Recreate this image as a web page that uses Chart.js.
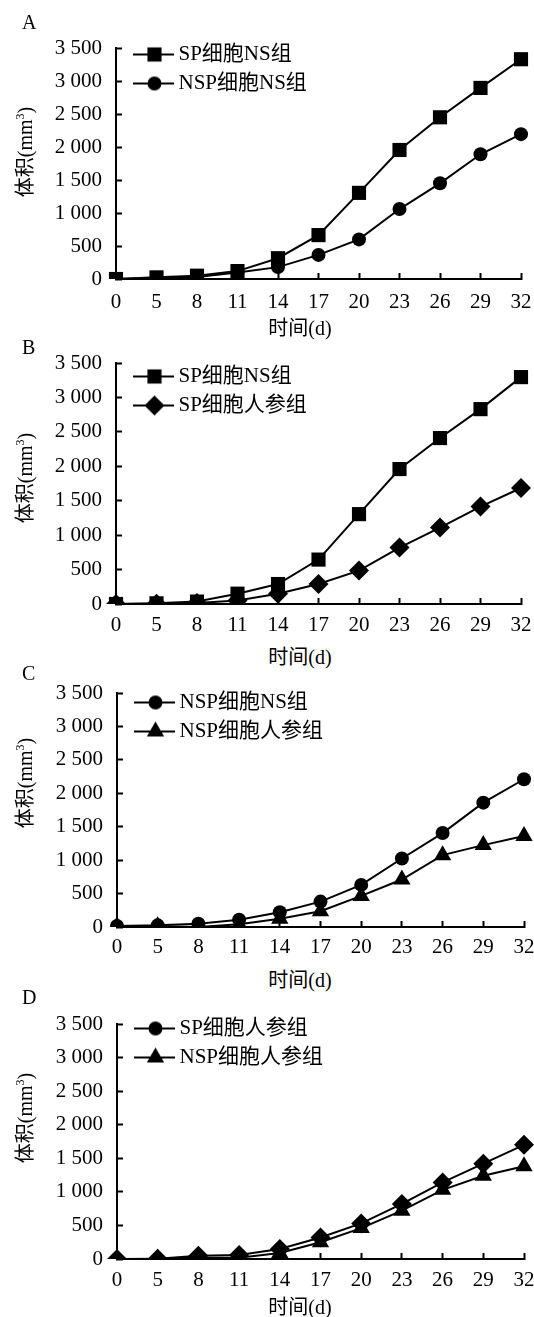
<!DOCTYPE html>
<html>
<head>
<meta charset="utf-8">
<script src="https://cdn.jsdelivr.net/npm/chart.js@4"></script>
<style>
  html, body { margin: 0; padding: 0; background: #fff; }
  body { width: 534px; height: 1317px; position: relative; overflow: hidden; }
  canvas { position: absolute; left: 0; }
  .txt { position: absolute; font-family: 'Liberation Serif', 'Noto Sans CJK SC', serif; font-size: 20px; line-height: 24px; color: #000; white-space: nowrap; }
  .sup { font-size: 12px; position: relative; top: -8px; }
</style>
</head>
<body>
<script>
// ---------- data ----------
const xLabels = ['0', '5', '8', '11', '14', '17', '20', '23', '26', '29', '32'];
const yTickValues = [0, 500, 1000, 1500, 2000, 2500, 3000, 3500];
const yTickLabels = ['0', '500', '1 000', '1 500', '2 000', '2 500', '3 000', '3 500'];
const panelLetters = ['A', 'B', 'C', 'D'];
const xTitle = '时间(d)';
const yTitleMain = '体积(mm';
const yTitleSup = '3';
const yTitleEnd = ')';

const nameSpNs = 'SP细胞NS组';
const nameNspNs = 'NSP细胞NS组';
const nameSpGs = 'SP细胞人参组';
const nameNspGs = 'NSP细胞人参组';

// Panel A
const aSpNs  = [0, 25, 50, 120, 315, 665, 1305, 1955, 2450, 2895, 3330];
const aNspNs = [0, 15, 30, 100, 180, 365, 600, 1060, 1450, 1890, 2195];
// Panel B
const bSpNs  = [0, 10, 35, 150, 290, 645, 1305, 1960, 2410, 2830, 3295];
const bSpGs  = [0, 5, 15, 50, 150, 290, 485, 820, 1110, 1415, 1685];
// Panel C
const cNspNs = [15, 25, 50, 110, 220, 380, 630, 1025, 1405, 1860, 2210];
const cNspGs = [10, 10, 0, 40, 125, 235, 465, 710, 1075, 1225, 1362];
// Panel D
const dSpGs  = [0, 5, 50, 60, 150, 320, 530, 820, 1140, 1420, 1700];
const dNspGs = [0, 5, 20, 20, 90, 250, 460, 720, 1030, 1240, 1380];

// ---------- styling / layout ----------
const FONT = "'Liberation Serif', 'Noto Sans CJK SC', serif";
Chart.defaults.font.family = FONT;
Chart.defaults.color = '#000';

const markerStyles = {
  square:   { pointStyle: 'rect',     radius: 10 },
  circle:   { pointStyle: 'circle',   radius: 7 },
  diamond:  { pointStyle: 'rectRot',  radius: 10 },
  triangle: { pointStyle: 'triangle', radius: 10 }
};

const panelSeries = [
  [ { name: nameSpNs,  data: aSpNs,  marker: 'square',  legendMarker: 'square' },
    { name: nameNspNs, data: aNspNs, marker: 'circle',  legendMarker: 'circle' } ],
  [ { name: nameSpNs,  data: bSpNs,  marker: 'square',  legendMarker: 'square' },
    { name: nameSpGs,  data: bSpGs,  marker: 'diamond', legendMarker: 'diamond' } ],
  [ { name: nameNspNs, data: cNspNs, marker: 'circle',  legendMarker: 'circle' },
    { name: nameNspGs, data: cNspGs, marker: 'triangle', legendMarker: 'triangle' } ],
  [ { name: nameSpGs,  data: dSpGs,  marker: 'diamond', legendMarker: 'circle' },
    { name: nameNspGs, data: dNspGs, marker: 'triangle', legendMarker: 'triangle' } ]
];

const panelLayout = [
  { top: 48,   bottom: 279,  left: 116, right: 521, letterY: 22,   yTitleY: 152,  xTitleY: 328,  xPad: 16, legendDy: 12 },
  { top: 363,  bottom: 604,  left: 116, right: 521, letterY: 347,  yTitleY: 478,  xTitleY: 657,  xPad: 14, legendDy: 5 },
  { top: 693,  bottom: 927,  left: 117, right: 525, letterY: 673,  yTitleY: 783,  xTitleY: 980,  xPad: 13, legendDy: 9 },
  { top: 1024, bottom: 1259, left: 117, right: 525, letterY: 997,  yTitleY: 1118, xTitleY: 1307, xPad: 14, legendDy: 14 }
];

function swatch(kind) {
  const c = document.createElement('canvas');
  c.width = 56; c.height = 22;
  const ctx = c.getContext('2d');
  ctx.strokeStyle = '#000';
  ctx.lineWidth = 2;
  ctx.beginPath(); ctx.moveTo(15, 11); ctx.lineTo(56, 11); ctx.stroke();
  ctx.fillStyle = '#000';
  const m = markerStyles[kind];
  Chart.helpers.drawPoint(ctx, { pointStyle: m.pointStyle, radius: m.radius, rotation: 0, borderWidth: 0 }, 36.5, 11);
  return c;
}

const legendShift = {
  id: 'legendShift',
  afterLayout(chart, args, opts) {
    const lg = chart.legend;
    if (!lg) return;
    const ca = chart.chartArea;
    const w = lg.width, h = lg.height;
    lg.left = ca.left; lg.right = ca.left + w;
    lg.top = ca.top - (opts.dy || 0); lg.bottom = lg.top + h;
  }
};

function addText(html, x, y, extraStyle) {
  const d = document.createElement('div');
  d.className = 'txt';
  d.innerHTML = html;
  d.style.left = x + 'px';
  d.style.top = y + 'px';
  if (extraStyle) Object.assign(d.style, extraStyle);
  document.body.appendChild(d);
  return d;
}

panelLayout.forEach((p, i) => {
  const series = panelSeries[i];
  const padTop = 20, axisH = 40;
  const h = padTop + (p.bottom - p.top) + axisH;
  const cv = document.createElement('canvas');
  cv.width = 534; cv.height = h;
  cv.style.width = '534px'; cv.style.height = h + 'px';
  cv.style.top = (p.top - padTop) + 'px';
  document.body.appendChild(cv);

  const gridOpts = { display: true, drawOnChartArea: false, drawTicks: true, tickLength: -6, tickColor: '#000', tickWidth: 2, offset: false };
  const borderOpts = { display: true, color: '#000', width: 2 };

  new Chart(cv, {
    type: 'line',
    data: {
      labels: xLabels,
      datasets: series.map(s => ({
        label: s.name,
        data: s.data,
        borderColor: '#000',
        backgroundColor: '#000',
        borderWidth: 2,
        pointStyle: markerStyles[s.marker].pointStyle,
        pointRadius: markerStyles[s.marker].radius,
        pointBackgroundColor: '#000',
        pointBorderColor: '#000',
        pointBorderWidth: 0,
        tension: 0,
        fill: false
      }))
    },
    options: {
      responsive: false,
      animation: false,
      devicePixelRatio: 1,
      events: [],
      layout: { padding: { top: padTop, left: 0, right: 534 - p.right, bottom: 0 } },
      scales: {
        x: {
          type: 'category',
          offset: false,
          grid: gridOpts,
          border: borderOpts,
          ticks: { padding: p.xPad + 1, font: { size: 21 }, color: '#000', maxRotation: 0, autoSkip: false },
          afterFit(s) { s.height = axisH; s.paddingLeft = 0; s.paddingRight = 0; }
        },
        y: {
          min: 0, max: 3500,
          grid: gridOpts,
          border: borderOpts,
          ticks: {
            stepSize: 500, padding: 20, font: { size: 21 }, color: '#000',
            callback: v => yTickLabels[yTickValues.indexOf(v)]
          },
          afterBuildTicks(s) { s.ticks = yTickValues.map(v => ({ value: v })); },
          afterFit(s) { s.width = p.left; s.paddingTop = 0; s.paddingBottom = 0; }
        }
      },
      plugins: {
        legend: {
          position: 'chartArea',
          align: 'start',
          labels: {
            usePointStyle: true,
            pointStyleWidth: 44,
            padding: 8,
            font: { size: 21 },
            color: '#000',
            generateLabels: () => series.map((s, k) => ({
              text: s.name,
              pointStyle: swatch(s.legendMarker),
              fillStyle: '#000',
              strokeStyle: '#000',
              lineWidth: 0,
              hidden: false,
              datasetIndex: k,
              fontColor: '#000'
            }))
          }
        },
        tooltip: { enabled: false },
        legendShift: { dy: p.legendDy }
      }
    },
    plugins: [legendShift]
  });

  // panel letter
  addText(panelLetters[i], 22, p.letterY - 12);
  // x-axis title
  addText(xTitle, 300, p.xTitleY - 12, { transform: 'translateX(-50%)' });
  // y-axis title (rotated)
  addText(yTitleMain + '<span class="sup">' + yTitleSup + '</span>' + yTitleEnd, 26, p.yTitleY,
          { transform: 'translate(-50%, -50%) rotate(-90deg)' });
});
</script>
</body>
</html>
